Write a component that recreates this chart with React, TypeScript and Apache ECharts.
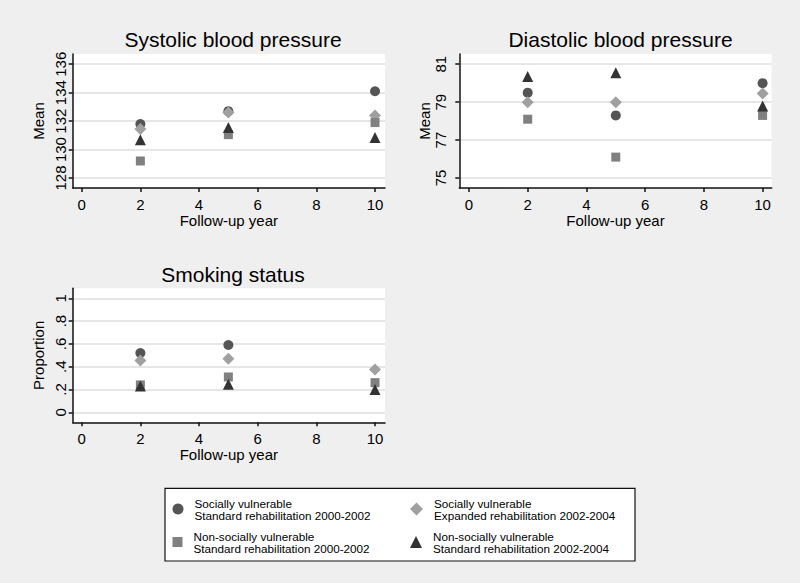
import React, { useEffect, useRef } from "react";
import * as echarts from "echarts";

// ---- data ----
const years = [2, 5, 10];
const yearTicks = [0, 2, 4, 6, 8, 10];

const seriesNames = [
  "Socially vulnerable\nStandard rehabilitation 2000-2002",
  "Socially vulnerable\nExpanded rehabilitation 2002-2004",
  "Non-socially vulnerable\nStandard rehabilitation 2000-2002",
  "Non-socially vulnerable\nStandard rehabilitation 2002-2004",
];

// Systolic blood pressure (mean)
const sysTicks = [128, 130, 132, 134, 136];
const sysSvStd = [131.8, 132.7, 134.1];
const sysSvExp = [131.45, 132.6, 132.4];
const sysNsvStd = [129.2, 131.05, 131.9];
const sysNsvStd2 = [130.7, 131.55, 130.85];

// Diastolic blood pressure (mean)
const diaTicks = [75, 77, 79, 81];
const diaSvStd = [79.5, 78.3, 80.0];
const diaSvExp = [79.0, 79.0, 79.45];
const diaNsvStd = [78.1, 76.1, 78.3];
const diaNsvStd2 = [80.35, 80.55, 78.8];

// Smoking status (proportion)
const smkTicks = [0, 0.2, 0.4, 0.6, 0.8, 1];
const smkSvStd: (number | null)[] = [0.52, 0.59, null];
const smkSvExp = [0.455, 0.47, 0.375];
const smkNsvStd = [0.24, 0.31, 0.26];
const smkNsvStd2 = [0.23, 0.245, 0.2];

// ---- styles ----
const FONT = "'Liberation Sans', Arial, Helvetica, sans-serif";
const BG = "#efefef";
const symbols = ["circle", "diamond", "rect", "triangle"];
const symbolSizes = [10, 12, 9, 11];
const colors = ["#555555", "#a0a0a0", "#808080", "#333333"];

const pairs = (ys: (number | null)[]) =>
  years
    .map((x, i) => (ys[i] == null ? null : [x, ys[i]]))
    .filter((d) => d != null);

const smkFmt = (v: number) => {
  const n = Number(v);
  if (Math.abs(n) < 1e-9) return "0";
  if (Math.abs(n - 1) < 1e-9) return "1";
  return n.toFixed(1).replace(/^0/, "");
};

export default function App() {
  const ref = useRef<HTMLDivElement>(null);

  useEffect(() => {
    if (!ref.current) return;
    const chart = echarts.init(ref.current, undefined, { renderer: "svg" });

    const grids = [
      { left: 72.7, top: 54, width: 312.3, height: 134 },
      { left: 459.3, top: 54, width: 312.4, height: 134 },
      { left: 72.7, top: 288.3, width: 312.3, height: 134 },
    ];

    const xRanges = [
      [-0.307, 10.34],
      [-0.33, 10.31],
      [-0.307, 10.34],
    ];
    const yRanges = [
      [127.3, 136.72],
      [74.47, 81.54],
      [-0.088, 1.088],
    ];
    const yTicks = [sysTicks, diaTicks, smkTicks];
    const yNames = ["Mean", "Mean", "Proportion"];
    const yLabelMargins = [5, 11, 5];

    const axisLineStyle = { color: "#111", width: 1.5 };

    const xAxis = grids.map((_, i) => ({
      type: "value",
      gridIndex: i,
      min: xRanges[i][0],
      max: xRanges[i][1],
      name: "Follow-up year",
      nameLocation: "middle",
      nameGap: 24,
      nameTextStyle: { fontFamily: FONT, fontSize: 15, color: "#000" },
      axisLine: { show: true, onZero: false, lineStyle: axisLineStyle },
      axisTick: {
        show: true,
        length: 4,
        customValues: yearTicks,
        lineStyle: axisLineStyle,
      },
      axisLabel: {
        customValues: yearTicks,
        fontFamily: FONT,
        fontSize: 15,
        color: "#000",
        margin: 9,
      },
      splitLine: { show: false },
    }));

    const yAxis = grids.map((_, i) => ({
      type: "value",
      gridIndex: i,
      min: yRanges[i][0],
      max: yRanges[i][1],
      name: yNames[i],
      nameLocation: "middle",
      nameGap: 27,
      nameTextStyle: { fontFamily: FONT, fontSize: 15, color: "#000" },
      axisLine: { show: true, onZero: false, lineStyle: axisLineStyle },
      axisTick: {
        show: true,
        length: 4,
        customValues: yTicks[i],
        lineStyle: axisLineStyle,
      },
      axisLabel: {
        customValues: yTicks[i],
        rotate: 90,
        fontFamily: FONT,
        fontSize: 15,
        color: "#000",
        margin: yLabelMargins[i],
        formatter: i === 2 ? (v: number) => smkFmt(v) : (v: number) => String(v),
      },
      splitLine: { show: true, lineStyle: { color: "#e6e6e6", width: 2 } },
    }));

    const panelData = [
      [sysSvStd, sysSvExp, sysNsvStd, sysNsvStd2],
      [diaSvStd, diaSvExp, diaNsvStd, diaNsvStd2],
      [smkSvStd, smkSvExp, smkNsvStd, smkNsvStd2],
    ];

    const series: any[] = [];
    panelData.forEach((groups, p) => {
      groups.forEach((ys, g) => {
        series.push({
          type: "scatter",
          name: seriesNames[g],
          xAxisIndex: p,
          yAxisIndex: p,
          symbol: symbols[g],
          symbolSize: symbolSizes[g],
          itemStyle: { color: colors[g], opacity: 1 },
          data: pairs(ys as (number | null)[]),
          z: 2 + g,
        });
      });
    });

    const legendPos = [
      { left: 172.5, top: 497 },
      { left: 410, top: 497 },
      { left: 172.5, top: 530 },
      { left: 410, top: 530 },
    ];
    const legend = seriesNames.map((n, g) => ({
      data: [{ name: n, icon: symbols[g] }],
      left: legendPos[g].left,
      top: legendPos[g].top,
      padding: 0,
      itemWidth: symbolSizes[g] + 1,
      itemHeight: symbolSizes[g] + 1,
      itemGap: 0,
      selectedMode: false,
      textStyle: {
        fontFamily: FONT,
        fontSize: 11.7,
        lineHeight: 12,
        color: "#000",
        padding: [0, 0, 0, 6],
      },
    }));

    chart.setOption({
      animation: false,
      backgroundColor: BG,
      title: [
        { text: "Systolic blood pressure", left: 228, top: 24 },
        { text: "Diastolic blood pressure", left: 615.5, top: 24 },
        { text: "Smoking status", left: 228, top: 259 },
      ].map((t) => ({
        ...t,
        textAlign: "center",
        textStyle: {
          fontFamily: FONT,
          fontSize: 21,
          fontWeight: "normal",
          color: "#000",
        },
      })),
      grid: grids.map((g) => ({
        ...g,
        show: true,
        backgroundColor: "#ffffff",
        borderWidth: 0,
        containLabel: false,
      })),
      xAxis,
      yAxis,
      legend,
      series,
      graphic: [
        {
          type: "rect",
          shape: { x: 165, y: 488.3, width: 470, height: 72.7 },
          style: { fill: "#ffffff", stroke: "#111", lineWidth: 1.2 },
          z: -1,
          silent: true,
        },
      ],
    });

    return () => chart.dispose();
  }, []);

  return (
    <div
      ref={ref}
      style={{ position: "fixed", left: 0, top: 0, width: 800, height: 583 }}
    />
  );
}
